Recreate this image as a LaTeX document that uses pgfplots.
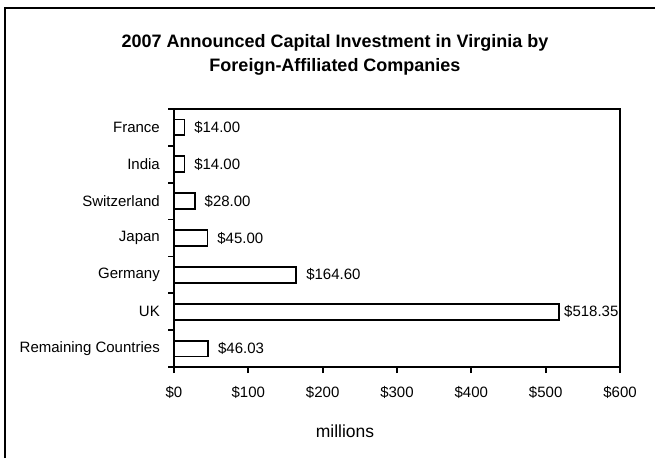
\documentclass[border=0pt]{standalone}
\usepackage{fontspec}
\setmainfont{Liberation Sans}
\usepackage{pgfplots}
\pgfplotsset{compat=1.18}
\begin{document}
\begin{tikzpicture}[x=1pt,y=1pt]
\useasboundingbox (0,0) rectangle (655,458);
\draw[line width=2pt] (5,0) -- (5,450) -- (655,450);
\node[anchor=base,inner sep=0pt,font=\fontsize{18}{22}\selectfont\bfseries] at (335,410) {2007 Announced Capital Investment in Virginia by};
\node[anchor=base,inner sep=0pt,font=\fontsize{18}{22}\selectfont\bfseries] at (335,386) {Foreign-Affiliated Companies};
\node[anchor=base,inner sep=0pt,font=\fontsize{17.5}{20}\selectfont] at (345,21) {millions};
\begin{axis}[
  at={(174pt,91pt)}, anchor=south west,
  scale only axis, width=446pt, height=258pt,
  xmin=0, xmax=600, ymin=-0.5, ymax=6.5,
  xtick={0,100,...,600},
  xticklabels={\$0,\$100,\$200,\$300,\$400,\$500,\$600},
  ytick={0,...,6},
  yticklabels={Remaining Countries,UK,Germany,Japan,Switzerland,India,France},
  minor xtick={0,100,...,600},
  minor ytick={-0.5,0.5,...,6.5},
  major tick length=0pt, minor tick length=6pt, tick align=outside,
  xtick pos=bottom, ytick pos=left,
  axis line style={line width=1.8pt},
  tick style={line width=1.8pt,black},
  xticklabel style={anchor=base,inner sep=0pt,yshift=-30pt,font=\fontsize{15}{17}\selectfont},
  yticklabel style={anchor=east,inner sep=0pt,xshift=-14pt,font=\fontsize{15}{17}\selectfont},
  xbar, bar width=0.43,
  nodes near coords,
  point meta=explicit symbolic,
  visualization depends on={x \as \xval},
  every node near coord/.append style={anchor=west,inner sep=0pt,xshift={ifthenelse(\xval>500,4,9)},font=\fontsize{15}{17}\selectfont},
]
\addplot[draw=black, fill=white, line width=1.8pt] coordinates {
  (46.03,0) [\$46.03]
  (518.35,1) [\$518.35]
  (164.60,2) [\$164.60]
  (45.00,3) [\$45.00]
  (28.00,4) [\$28.00]
  (14.00,5) [\$14.00]
  (14.00,6) [\$14.00]
};
\end{axis}
\end{tikzpicture}
\end{document}
